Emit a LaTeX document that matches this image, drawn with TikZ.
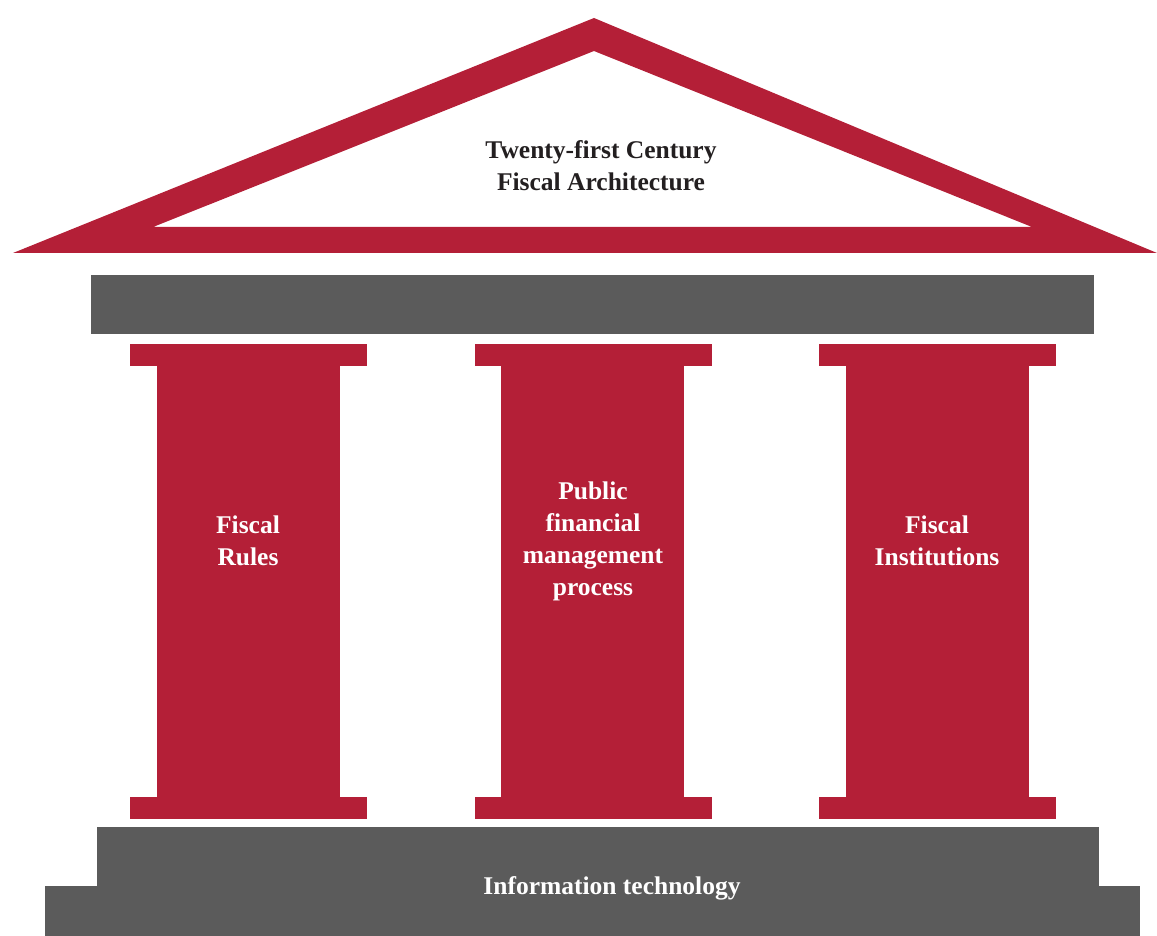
\documentclass[tikz,border=0pt]{standalone}
\usepackage{fontspec}
\setmainfont{Liberation Serif}
\definecolor{fred}{HTML}{B41F37}
\definecolor{fgrey}{HTML}{5B5B5B}
\definecolor{ftext}{HTML}{231F20}
\begin{document}
\begin{tikzpicture}[x=1pt,y=-1pt,
  lbl/.style={font=\bfseries\fontsize{25.5}{32}\selectfont, align=center, inner sep=0pt},
  redfill/.style={fill=fred, draw=none},
  greyfill/.style={fill=fgrey, draw=none}]
\useasboundingbox (0,0) rectangle (1157,936);
% roof
\fill[fred, even odd rule] (13,253) -- (594,18) -- (1157,253) -- cycle
  (153,227) -- (594,51) -- (1032,227) -- cycle;
% architrave
\fill[fgrey] (91,275) rectangle (1094,334);
% pillars
\foreach \cx/\sx in {130/157, 475/501, 819/846}{
  \fill[fred] (\cx,344) rectangle ++(237,22);
  \fill[fred] (\sx,365) rectangle ++(183,433);
  \fill[fred] (\cx,797) rectangle ++(237,22);
}
% base
\fill[fgrey] (97,827) rectangle (1099,887);
\fill[fgrey] (45,886) rectangle (1140,936);
% labels
\node[lbl, text=ftext] (title) at (601,166) {Twenty-first Century\\Fiscal Architecture};
\node[lbl, text=white] (rules) at (248,541) {Fiscal\\Rules};
\node[lbl, text=white] (pfm) at (593,541) {Public\\financial\\management\\process};
\node[lbl, text=white] (inst) at (937,541) {Fiscal\\Institutions};
\node[lbl, text=white] (it) at (612,888) {Information technology};
\end{tikzpicture}
\end{document}
